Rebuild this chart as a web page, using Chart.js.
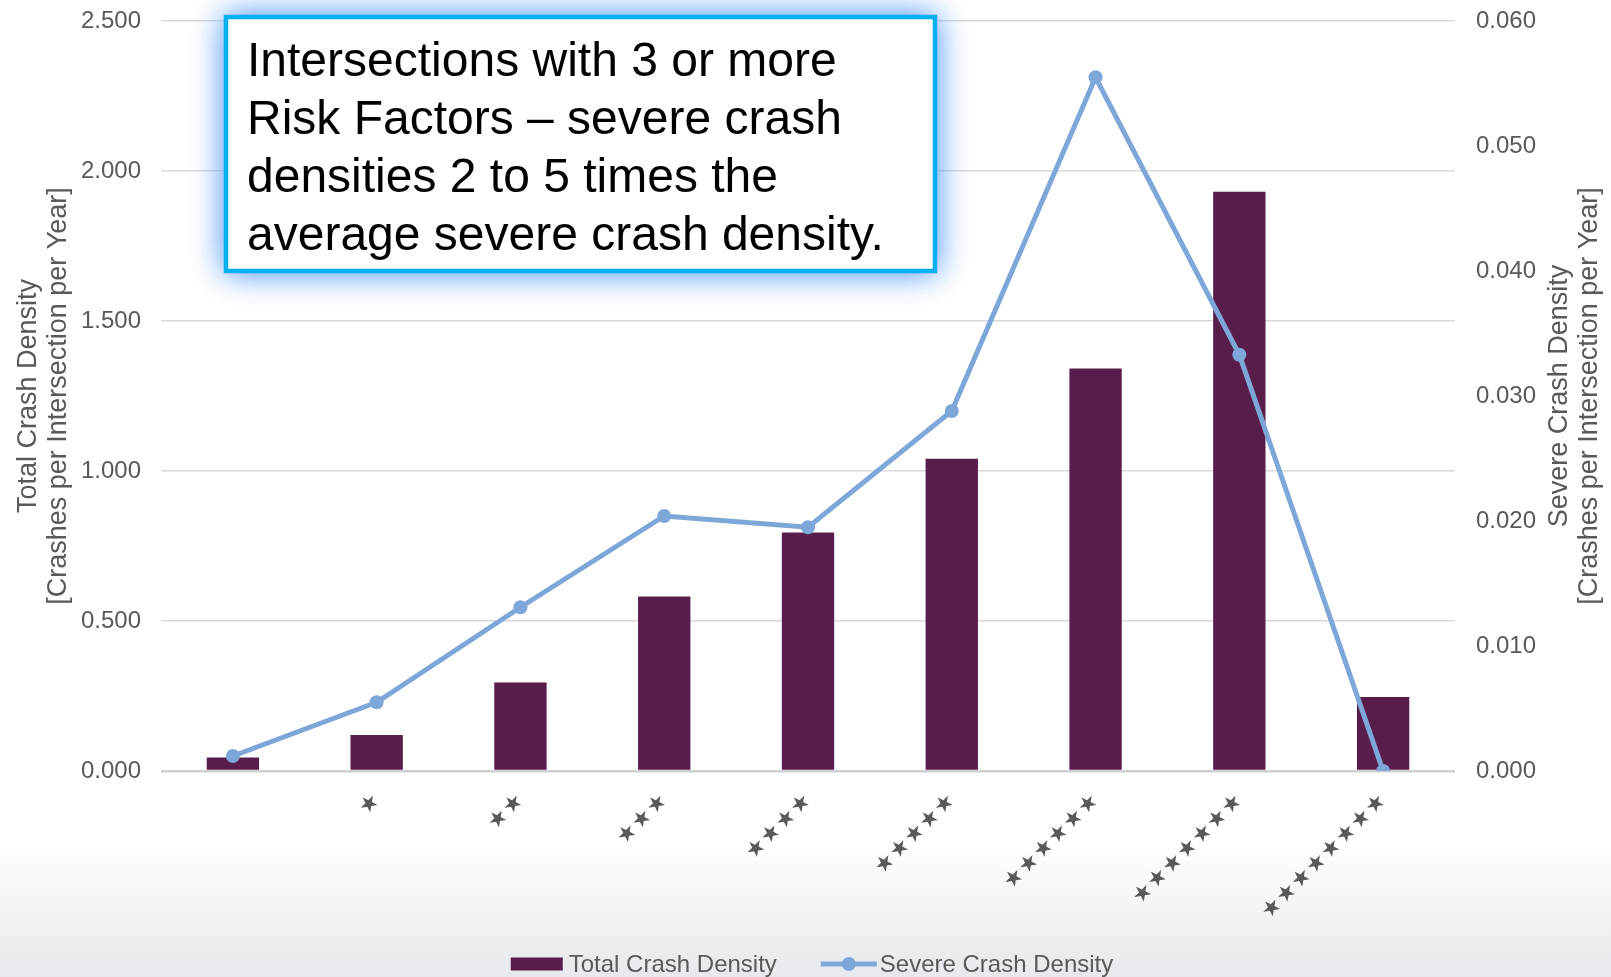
<!DOCTYPE html>
<html>
<head>
<meta charset="utf-8">
<title>Crash Density by Number of Risk Factors</title>
<script src="https://cdn.jsdelivr.net/npm/chart.js@4.4.1/dist/chart.umd.min.js"></script>
<style>
  html, body { margin: 0; padding: 0; overflow: hidden; }
  body {
    width: 1611px;
    height: 977px;
    background: linear-gradient(to bottom, #ffffff 0%, #ffffff 86%, #e6e9ed 100%);
  }
  canvas { display: block; }
</style>
</head>
<body>
<canvas id="crashChart" width="1611" height="977"></canvas>
<script>
// number of risk factors, shown as stars
const riskLabels = ['', '★', '★★', '★★★', '★★★★', '★★★★★', '★★★★★★', '★★★★★★★', '★★★★★★★★'];
const totalDensity = [0.045, 0.120, 0.295, 0.582, 0.795, 1.041, 1.342, 1.931, 0.247];
const severeDensity = [0.0012, 0.0055, 0.0131, 0.0204, 0.0195, 0.0288, 0.0555, 0.0333, 0.0];

const seriesNames = ['Total Crash Density', 'Severe Crash Density'];
const leftTitle = ['Total Crash Density', '[Crashes per Intersection per Year]'];
const rightTitle = ['Severe Crash Density', '[Crashes per Intersection per Year]'];
const noteLines = [
  'Intersections with 3 or more',
  'Risk Factors \u2013 severe crash',
  'densities 2 to 5 times the',
  'average severe crash density.'
];

const barColor = '#591d4b';
const lineColor = '#7da7d9';
const textGray = '#595959';
const sans = '"Liberation Sans", Arial, sans-serif';

const drawRotated = (ctx, text, x, y) => {
  ctx.save();
  ctx.translate(x, y);
  ctx.rotate(-Math.PI / 2);
  ctx.fillText(text, 0, 0);
  ctx.restore();
};

// star labels are drawn after the datasets (ticks z: 1), spread out a bit
const starSpacingPlugin = {
  id: 'starSpacing',
  afterDatasetsDraw(chart) {
    chart.ctx.letterSpacing = '3px';
  }
};

// axis titles, the legend and the note box
const extrasPlugin = {
  id: 'extras',
  afterDraw(chart) {
    const ctx = chart.ctx;
    const area = chart.chartArea;
    const midY = (area.top + area.bottom) / 2;
    ctx.letterSpacing = '0px';

    ctx.save();
    ctx.fillStyle = textGray;
    ctx.textAlign = 'center';
    ctx.textBaseline = 'middle';
    ctx.font = '27px ' + sans;
    drawRotated(ctx, leftTitle[0], 29, midY);
    drawRotated(ctx, leftTitle[1], 59, midY);
    drawRotated(ctx, rightTitle[0], 1560, midY);
    drawRotated(ctx, rightTitle[1], 1590, midY);

    // legend
    ctx.font = '24px ' + sans;
    ctx.textAlign = 'left';
    const legendY = 964;
    const w1 = ctx.measureText(seriesNames[0]).width;
    const w2 = ctx.measureText(seriesNames[1]).width;
    const total = 52 + 6 + w1 + 44 + 56 + 3 + w2;
    let x = 812 - total / 2;
    ctx.fillStyle = barColor;
    ctx.fillRect(x, legendY - 6.5, 52, 13);
    x += 58;
    ctx.fillStyle = textGray;
    ctx.fillText(seriesNames[0], x, legendY + 1);
    x += w1 + 44;
    ctx.strokeStyle = lineColor;
    ctx.lineWidth = 5;
    ctx.beginPath();
    ctx.moveTo(x, legendY);
    ctx.lineTo(x + 56, legendY);
    ctx.stroke();
    ctx.fillStyle = lineColor;
    ctx.beginPath();
    ctx.arc(x + 28, legendY, 7, 0, Math.PI * 2);
    ctx.fill();
    x += 59;
    ctx.fillStyle = textGray;
    ctx.fillText(seriesNames[1], x, legendY + 1);

    // note box with soft blue glow
    ctx.fillStyle = '#ffffff';
    ctx.shadowColor = 'rgba(110, 170, 245, 0.9)';
    ctx.shadowBlur = 30;
    ctx.fillRect(226, 17, 709, 254);
    ctx.fillRect(226, 17, 709, 254);
    ctx.shadowColor = 'transparent';
    ctx.shadowBlur = 0;
    ctx.lineWidth = 4.5;
    ctx.strokeStyle = '#00b0f0';
    ctx.strokeRect(226, 17, 709, 254);
    ctx.fillStyle = '#000000';
    ctx.font = '48px ' + sans;
    ctx.textBaseline = 'middle';
    noteLines.forEach((line, i) => {
      ctx.fillText(line, 247, 62.5 + i * 58);
    });
    ctx.restore();
  }
};

const tickFont = { family: sans, size: 24 };

// keep the tick padding from pushing the plot area down
const fixWidth = (w) => (scale) => {
  scale.width = w;
  scale.paddingTop = 0;
  scale.paddingBottom = 0;
};

new Chart(document.getElementById('crashChart'), {
  type: 'bar',
  data: {
    labels: riskLabels,
    datasets: [
      {
        type: 'line',
        label: seriesNames[1],
        data: severeDensity,
        yAxisID: 'y1',
        borderColor: lineColor,
        backgroundColor: lineColor,
        borderWidth: 5,
        pointRadius: 7,
        pointBorderWidth: 0,
        pointBackgroundColor: lineColor,
        tension: 0,
        order: 1
      },
      {
        label: seriesNames[0],
        data: totalDensity,
        yAxisID: 'y',
        backgroundColor: barColor,
        barPercentage: 0.364,
        categoryPercentage: 1,
        order: 2
      }
    ]
  },
  options: {
    responsive: false,
    animation: false,
    layout: { padding: { top: 21, left: 0, right: 0, bottom: 0 } },
    plugins: {
      legend: { display: false },
      tooltip: { enabled: false }
    },
    scales: {
      x: {
        grid: { display: false, drawTicks: false },
        border: { display: false },
        ticks: {
          z: 1,
          autoSkip: false,
          minRotation: 45,
          maxRotation: 45,
          padding: 16,
          color: textGray,
          font: { family: '"Noto Sans CJK JP", "DejaVu Sans", sans-serif', size: 18 }
        },
        afterFit(scale) { scale.height = 206; }
      },
      y: {
        position: 'left',
        min: 0,
        max: 2.5,
        border: { display: false },
        grid: {
          drawTicks: false,
          color: (c) => (c.tick.value === 0 ? '#d0d0d0' : '#d9d9d9'),
          lineWidth: (c) => (c.tick.value === 0 ? 2.5 : 1.5)
        },
        ticks: {
          stepSize: 0.5,
          padding: 20,
          color: textGray,
          font: tickFont,
          callback: (v) => v.toFixed(3)
        },
        afterFit: fixWidth(161)
      },
      y1: {
        position: 'right',
        min: 0,
        max: 0.06,
        border: { display: false },
        grid: { drawOnChartArea: false, drawTicks: false },
        ticks: {
          stepSize: 0.01,
          padding: 21,
          color: textGray,
          font: tickFont,
          callback: (v) => v.toFixed(3)
        },
        afterFit: fixWidth(156)
      }
    }
  },
  plugins: [starSpacingPlugin, extrasPlugin]
});
</script>
</body>
</html>
